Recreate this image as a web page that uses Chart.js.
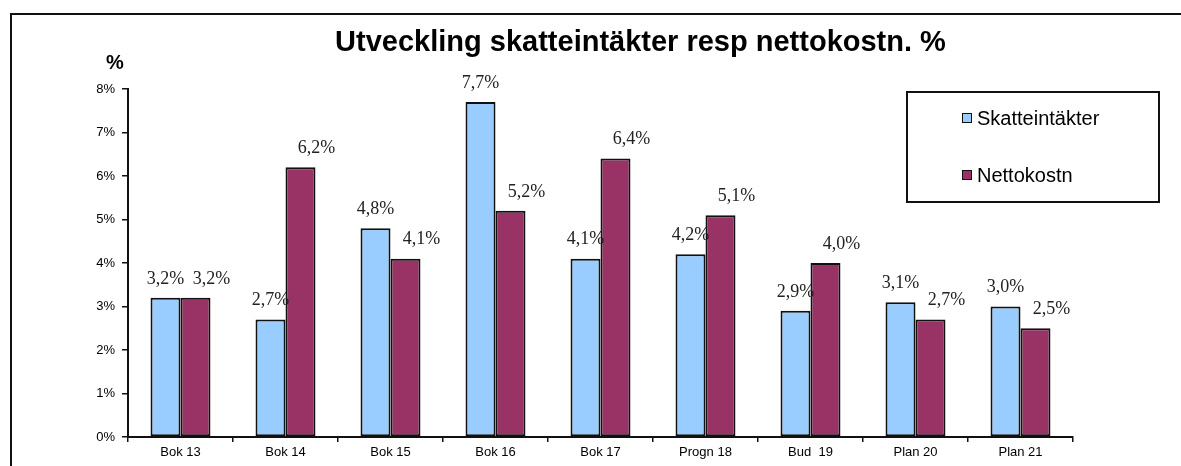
<!DOCTYPE html>
<html>
<head>
<meta charset="utf-8">
<script src="https://cdn.jsdelivr.net/npm/chart.js@4.4.0/dist/chart.umd.min.js"></script>
<style>
  body { margin: 0; background: #fff; width: 1181px; height: 466px; overflow: hidden; position: relative; font-family: "Liberation Sans", Arial, sans-serif; }
  #frame { position: absolute; left: 10px; top: 13px; width: 1300px; height: 600px; border: 2px solid #111; }
  #chart { position: absolute; left: 0; top: 0; }
  #title { position: absolute; left: 0; width: 1281px; top: 25px; text-align: center; font-weight: bold; font-size: 29px; color: #000; }
  #ytitle { position: absolute; left: 106px; top: 51px; font-weight: bold; font-size: 20px; color: #000; }
  #legend { position: absolute; left: 906px; top: 91px; width: 250px; height: 108px; border: 2px solid #111; }
  .item { position: absolute; left: 54px; font-size: 20px; color: #000; }
  .box { display: inline-block; width: 8px; height: 8px; border: 1.5px solid #111; margin-right: 5px; vertical-align: 2px; }
</style>
</head>
<body>
<div id="frame"></div>
<canvas id="chart" width="1181" height="466"></canvas>
<div id="title">Utveckling skatteintäkter resp nettokostn. %</div>
<div id="ytitle">%</div>
<div id="legend"></div>
<script>
const categories = ['Bok 13', 'Bok 14', 'Bok 15', 'Bok 16', 'Bok 17', 'Progn 18', 'Bud  19', 'Plan 20', 'Plan 21'];
const skatteintakter = [3.2, 2.7, 4.8, 7.7, 4.1, 4.2, 2.9, 3.1, 3.0];
const nettokostn = [3.2, 6.2, 4.1, 5.2, 6.4, 5.1, 4.0, 2.7, 2.5];
const seriesNames = ['Skatteintäkter', 'Nettokostn'];
const seriesColors = ['#99CCFF', '#993366'];

const fmt = v => v.toFixed(1).replace('.', ',') + '%';

// value labels above bars, red ones pushed a bit right like the original
const valueLabels = {
  id: 'valueLabels',
  afterDatasetsDraw(chart) {
    const ctx = chart.ctx;
    ctx.save();
    ctx.font = '18px "Liberation Serif", "Times New Roman", serif';
    ctx.fillStyle = '#222';
    ctx.textAlign = 'center';
    ctx.textBaseline = 'middle';
    chart.data.datasets.forEach((ds, i) => {
      const shift = i === 1 ? 16 : 0;
      chart.getDatasetMeta(i).data.forEach((bar, j) => {
        ctx.fillText(fmt(ds.data[j]), bar.x + shift, bar.y - 19);
      });
    });
    ctx.restore();
  }
};

new Chart(document.getElementById('chart'), {
  type: 'bar',
  data: {
    labels: categories,
    datasets: [
      {
        label: seriesNames[0],
        data: skatteintakter,
        backgroundColor: seriesColors[0],
        borderColor: '#111',
        borderWidth: 2,
        borderSkipped: false,
      },
      {
        label: seriesNames[1],
        data: nettokostn,
        backgroundColor: seriesColors[1],
        borderColor: '#111',
        borderWidth: 2,
        borderSkipped: false,
      },
    ],
  },
  options: {
    responsive: false,
    animation: false,
    layout: { padding: { left: 0, top: 89, right: 108, bottom: 0 } },
    datasets: { bar: { categoryPercentage: 0.571, barPercentage: 1 } },
    plugins: {
      legend: { display: false },
      title: { display: false },
      tooltip: { enabled: false },
    },
    scales: {
      x: {
        afterFit: s => { s.height = 29; },
        grid: { drawOnChartArea: false, tickLength: 5, color: '#111', lineWidth: 1.5 },
        border: { color: '#111', width: 2 },
        ticks: { color: '#000', font: { size: 13, family: '"Liberation Sans", Arial' }, padding: 3, maxRotation: 0 },
      },
      y: {
        min: 0,
        max: 8,
        afterFit: s => { s.width = 128; },
        grid: { drawOnChartArea: false, tickLength: 6, color: '#111', lineWidth: 1.5 },
        border: { color: '#111', width: 2 },
        ticks: { stepSize: 1, color: '#000', padding: 7, font: { size: 13, family: '"Liberation Sans", Arial' }, callback: v => v + '%' },
      },
    },
  },
  plugins: [valueLabels],
});

const legend = document.getElementById('legend');
const legendTops = [14, 71];
seriesNames.forEach((name, i) => {
  const el = document.createElement('div');
  el.className = 'item';
  el.style.top = legendTops[i] + 'px';
  el.innerHTML = '<span class="box" style="background:' + seriesColors[i] + '"></span>' + name;
  legend.appendChild(el);
});
</script>
</body>
</html>
